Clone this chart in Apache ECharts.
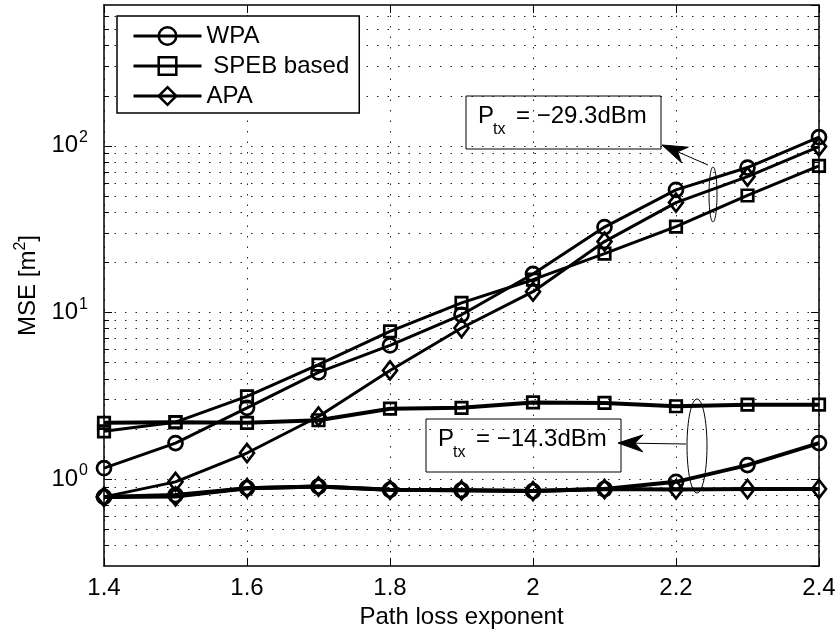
<!DOCTYPE html>
<html><head><meta charset="utf-8">
<script src="https://cdn.jsdelivr.net/npm/echarts@6/dist/echarts.min.js"></script>
<style>html,body{margin:0;padding:0;background:#fff}#c{width:839px;height:637px}</style>
</head><body><div id="c"></div>
<script>
// ---- data ----
const pathLossExp = [1.4, 1.5, 1.6, 1.7, 1.8, 1.9, 2.0, 2.1, 2.2, 2.3, 2.4];
// P_tx = -29.3 dBm
const wpaHigh  = [1.16, 1.64, 2.67, 4.36, 6.33, 9.67, 17.0, 32.5, 54.4, 74.0, 112.6];
const spebHigh = [1.93, 2.19, 3.13, 4.85, 7.68, 11.4, 15.7, 22.5, 32.7, 50.3, 75.7];
const apaHigh  = [0.78, 0.96, 1.43, 2.37, 4.48, 8.05, 13.3, 26.6, 45.6, 65.3, 98.9];
// P_tx = -14.3 dBm
const wpaLow   = [0.78, 0.80, 0.88, 0.90, 0.86, 0.855, 0.845, 0.87, 0.96, 1.21, 1.64];
const spebLow  = [2.17, 2.19, 2.17, 2.25, 2.64, 2.67, 2.88, 2.86, 2.73, 2.79, 2.79];
const apaLow   = [0.78, 0.785, 0.88, 0.90, 0.86, 0.855, 0.845, 0.87, 0.865, 0.87, 0.87];
const legendNames = ['WPA', ' SPEB based', 'APA'];
const yMajorGrid = [1, 10, 100];
const yMinorGrid = [0.4, 0.5, 0.6, 0.7, 0.8, 0.9, 2, 3, 4, 5, 6, 7, 8, 9,
                    20, 30, 40, 50, 60, 70, 80, 90, 200, 300, 400, 500, 600];
const xLabel = 'Path loss exponent';
const yLabel = '{b|MSE [m}{s|2}{b|]}';
const annHigh = '= \u221229.3dBm';
const annLow = '= \u221214.3dBm';

const FONT = "'Liberation Sans', Arial, Helvetica, sans-serif";
const FS = 24;
const chart = echarts.init(document.getElementById('c'), null, {renderer: 'canvas'});

const symbols = {
  'WPA': {symbol: 'circle', size: 14},
  ' SPEB based': {symbol: 'rect', size: 11.5},
  'APA': {symbol: 'diamond', size: [14, 18]}
};
function mk(name, vals, lw) {
  return {
    type: 'line', name: name,
    data: pathLossExp.map((x, i) => [x, vals[i]]),
    symbol: symbols[name].symbol, symbolSize: symbols[name].size, showSymbol: true,
    lineStyle: {color: '#000', width: lw},
    itemStyle: {color: 'rgba(255,255,255,0)', borderColor: '#000', borderWidth: 2.7},
    emphasis: {disabled: true}, z: 5, clip: false
  };
}
const dotted = {type: [1.5, 9], color: '#222', width: 1};

function gridSeries(vals, withTicks) {
  return {
    type: 'custom', silent: true, z: 1, clip: false,
    data: vals.map(v => [pathLossExp[0], v]),
    encode: {x: 0, y: 1},
    renderItem: function (params, api) {
      const cs = params.coordSys;
      const y = Math.round(api.coord([api.value(0), api.value(1)])[1]) + 0.5;
      const ch = [{type: 'line', shape: {x1: cs.x, y1: y, x2: cs.x + cs.width, y2: y},
                   style: {stroke: '#222', lineWidth: 1, lineDash: [1.5, 9]}}];
      if (withTicks) {
        ch.push({type: 'line', shape: {x1: cs.x, y1: y, x2: cs.x + 5, y2: y}, style: {stroke: '#000', lineWidth: 1}});
        ch.push({type: 'line', shape: {x1: cs.x + cs.width - 5, y1: y, x2: cs.x + cs.width, y2: y}, style: {stroke: '#000', lineWidth: 1}});
      }
      return {type: 'group', children: ch};
    }
  };
}

function yLab(v) {
  const l = Math.log10(v), e = Math.round(l);
  if (Math.abs(l - e) > 1e-6) return '';
  return '{b|10}{s|' + e + '}';
}
const axisLine = {show: true, lineStyle: {color: '#000', width: 1.5}};

chart.setOption({
  animation: false,
  backgroundColor: '#fff',
  textStyle: {fontFamily: FONT},
  grid: {left: 104, top: 5, width: 715, height: 561, containLabel: false},
  legend: {
    data: legendNames, orient: 'vertical', left: 117, top: 16,
    padding: [8, 10, 5, 15], itemGap: 6, itemWidth: 68, itemHeight: 22,
    backgroundColor: '#fff', borderColor: '#000', borderWidth: 1.5, borderRadius: 0,
    selectedMode: false,
    lineStyle: {width: 3, color: '#000'},
    itemStyle: {borderWidth: 2.5, borderColor: '#000', color: 'rgba(255,255,255,0)'},
    textStyle: {fontSize: FS, color: '#000', fontFamily: FONT, lineHeight: 24}
  },
  xAxis: [{
    type: 'value', min: 1.4, max: 2.4, interval: 0.2,
    axisLine: axisLine,
    axisTick: {show: true, inside: true, length: 8, lineStyle: {color: '#000', width: 1}},
    axisLabel: {margin: 10, fontSize: FS, color: '#000', fontFamily: FONT},
    splitLine: {show: true, lineStyle: dotted},
    name: xLabel, nameLocation: 'middle', nameGap: 39,
    nameTextStyle: {fontSize: FS, color: '#000', fontFamily: FONT}
  }, {
    type: 'value', position: 'top', min: 1.4, max: 2.4, interval: 0.2,
    axisLine: axisLine,
    axisTick: {show: true, inside: true, length: 8, lineStyle: {color: '#000', width: 1}},
    axisLabel: {show: false}, splitLine: {show: false}
  }],
  yAxis: [{
    type: 'log', logBase: 10, min: 0.3, max: 700,
    axisLine: axisLine,
    axisTick: {show: true, inside: true, length: 8, lineStyle: {color: '#000', width: 1}},
    axisLabel: {
      margin: 16, formatter: yLab, color: '#000', showMinLabel: false, showMaxLabel: false,
      rich: {
        b: {fontSize: FS, fontFamily: FONT, color: '#000', lineHeight: 32},
        s: {fontSize: 16, fontFamily: FONT, color: '#000', lineHeight: 16, verticalAlign: 'top', padding: [0, 0, 0, 1]}
      }
    },
    splitLine: {show: false},
    name: yLabel, nameLocation: 'middle', nameGap: 52, nameRotate: 90,
    nameTextStyle: {
      fontSize: FS, color: '#000', fontFamily: FONT,
      rich: {
        b: {fontSize: FS, fontFamily: FONT, color: '#000', lineHeight: 32},
        s: {fontSize: 16, fontFamily: FONT, color: '#000', verticalAlign: 'top', lineHeight: 16}
      }
    }
  }, {
    type: 'log', logBase: 10, min: 0.3, max: 700, position: 'right',
    axisLine: axisLine,
    axisTick: {show: true, inside: true, length: 8, lineStyle: {color: '#000', width: 1}},
    axisLabel: {show: false}, splitLine: {show: false}
  }],
  series: [
    gridSeries(yMajorGrid, false),
    gridSeries(yMinorGrid, true),
    mk('WPA', wpaHigh, 3),
    mk(' SPEB based', spebHigh, 3),
    mk('APA', apaHigh, 3),
    mk('WPA', wpaLow, 4),
    mk(' SPEB based', spebLow, 4),
    mk('APA', apaLow, 4)
  ]
});

// ---- annotations ----
function arrow(tip, tail) {
  const dx = tail[0] - tip[0], dy = tail[1] - tip[1];
  const L = Math.hypot(dx, dy), ux = dx / L, uy = dy / L, px = -uy, py = ux;
  const hl = 25, hw = 8.5, nl = 17;
  const p = (a, b) => [tip[0] + ux * a + px * b, tip[1] + uy * a + py * b];
  return [
    {type: 'line', shape: {x1: tail[0], y1: tail[1], x2: tip[0] + ux * nl, y2: tip[1] + uy * nl},
     style: {stroke: '#000', lineWidth: 1}, z: 20},
    {type: 'polygon', shape: {points: [tip, p(hl, hw), p(nl, 0), p(hl, -hw)]},
     style: {fill: '#000', stroke: '#000', lineWidth: 1}, z: 20}
  ];
}
function box(x, y, txt) {
  return [
    {type: 'rect', shape: {x: x, y: y, width: 195, height: 53}, style: {fill: 'none', stroke: '#000', lineWidth: 1}, z: 20},
    {type: 'text', x: x + 12, y: y + 32, style: {text: 'P', fontSize: FS, fontFamily: FONT, fill: '#000', verticalAlign: 'bottom'}, z: 21},
    {type: 'text', x: x + 27, y: y + 42, style: {text: 'tx', fontSize: 16, fontFamily: FONT, fill: '#000', verticalAlign: 'bottom'}, z: 21},
    {type: 'text', x: x + 50, y: y + 32, style: {text: txt, fontSize: FS, fontFamily: FONT, fill: '#000', verticalAlign: 'bottom'}, z: 21}
  ];
}
const g = [].concat(
  box(466, 96, annHigh),
  box(426, 419, annLow),
  [{type: 'ellipse', shape: {cx: 713, cy: 194.5, rx: 4, ry: 27.5}, style: {fill: 'none', stroke: '#000', lineWidth: 1}, z: 20},
   {type: 'ellipse', shape: {cx: 697, cy: 446, rx: 10, ry: 47}, style: {fill: 'none', stroke: '#000', lineWidth: 1}, z: 20}],
  arrow([662, 145], [708, 165]),
  arrow([618, 443], [686, 444])
);
chart.setOption({graphic: g});
</script>
</body></html>
